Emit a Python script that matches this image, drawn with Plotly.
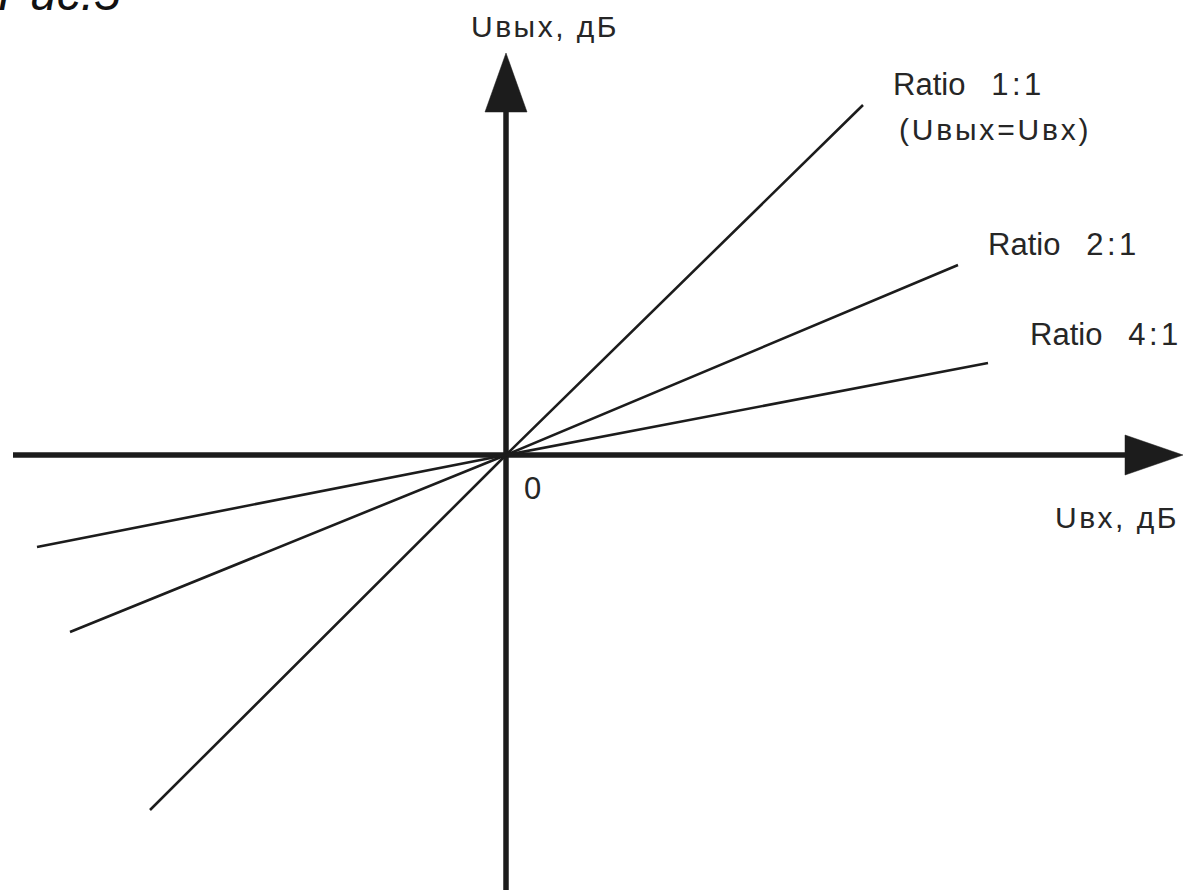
import plotly.graph_objects as go

# Transfer characteristics of a compressor (input vs output level, dB)
u_in_1_1 = [-35.6, 0.0, 35.7]
u_out_1_1 = [-35.5, 0.0, 35.0]
u_in_2_1 = [-43.6, 0.0, 45.2]
u_out_2_1 = [-17.7, 0.0, 19.0]
u_in_4_1 = [-46.9, 0.0, 48.2]
u_out_4_1 = [-9.2, 0.0, 9.2]

ratio_values = ["1:1", "2:1", "4:1"]
x_title = "Uвх, дБ"
y_title = "Uвых, дБ"
unity_note = "(Uвых=Uвх)"
origin_label = "0"
caption = "Рис.5"

INK = "#1c1c1c"
TXT = "#262626"
FONT = "Liberation Sans, Arial, sans-serif"

fig = go.Figure()
for xs, ys, r in [(u_in_1_1, u_out_1_1, ratio_values[0]),
                  (u_in_2_1, u_out_2_1, ratio_values[1]),
                  (u_in_4_1, u_out_4_1, ratio_values[2])]:
    fig.add_trace(go.Scatter(x=xs, y=ys, mode="lines", name="Ratio " + r,
                             line=dict(color=INK, width=2.6),
                             showlegend=False, hoverinfo="skip"))

# coordinate axes with arrowheads
fig.add_shape(type="line", x0=-49.3, y0=0, x1=62.5, y1=0,
              line=dict(color=INK, width=5.5), layer="below")
fig.add_shape(type="path", path="M 61.9,-2.0 L 67.7,0 L 61.9,2.0 Z",
              fillcolor=INK, line=dict(color=INK, width=0.5))
fig.add_shape(type="line", x0=0, y0=-44.5, x1=0, y1=35.0,
              line=dict(color=INK, width=5.5), layer="below")
fig.add_shape(type="path", path="M -2.1,34.3 L 0,40.2 L 2.1,34.3 Z",
              fillcolor=INK, line=dict(color=INK, width=0.5))


def wide(text, px):
    return '<span style="letter-spacing:{}px">{}</span>'.format(px, text)


def ratio_text(r):
    return "Ratio\u00a0\u00a0\u00a0" + wide(r, 3.5)


def label(text, x, y, size=31, xanchor="left", yanchor="middle", **kw):
    fig.add_annotation(x=x, y=y, xref="x", yref="y", text=text,
                       showarrow=False, xanchor=xanchor, yanchor=yanchor,
                       font=dict(family=FONT, size=size, color=TXT), **kw)


label(ratio_text(ratio_values[0]), 38.5, 37.1)
label(wide(unity_note, 2.8), 39.1, 32.6, size=30)
label(ratio_text(ratio_values[1]), 48.0, 21.1)
label(ratio_text(ratio_values[2]), 52.2, 12.1)
label(wide(y_title, 2.5), -3.7, 42.9, size=30)
label(wide(x_title, 2.5), 67.5, -6.2, size=30, xanchor="right")
label(origin_label, 2.6, -3.3, size=31, xanchor="center")

# figure caption, partly above the top edge
fig.add_annotation(x=-0.0035, y=1.0, xref="paper", yref="paper", text=caption,
                   showarrow=False, xanchor="left", yanchor="bottom", yshift=-22,
                   font=dict(family=FONT, size=48, color="#111111", style="italic"))

fig.update_xaxes(range=[-50.6, 68.0], visible=False, fixedrange=True)
fig.update_yaxes(range=[-43.5, 45.5], visible=False, fixedrange=True)
fig.update_layout(width=1186, height=890, margin=dict(l=0, r=0, t=0, b=0),
                  plot_bgcolor="white", paper_bgcolor="white")

fig.write_html("out.html")
